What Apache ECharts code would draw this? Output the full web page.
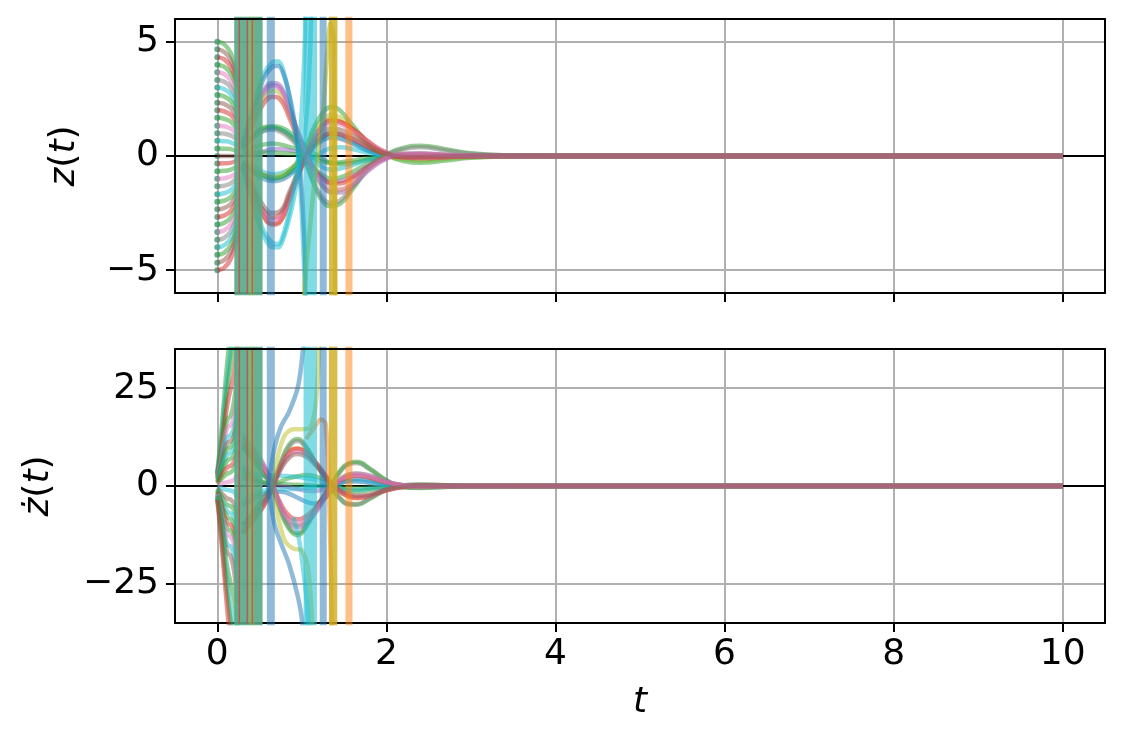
<!DOCTYPE html>
<html><head><meta charset="utf-8">
<script src="https://cdn.jsdelivr.net/npm/echarts@6/dist/echarts.min.js"></script>
<style>html,body{margin:0;padding:0;background:#fff}#c{width:1124px;height:750px}</style>
</head><body><div id="c"></div>
<script>
// ---------------- tick values ----------------
const xTicks = [0, 2, 4, 6, 8, 10];
const zTicks = [-5, 0, 5];
const vTicks = [-25, 0, 25];
const zeroLineT = [-0.5, 10.5];
const zeroLineV = [0, 0];

// ---------------- top panel: initial tails ----------------
const tTail = [0, 0.08, 0.16, 0.24];
const zStart = [5,4.67,4.33,4,3.67,3.33,3,2.67,2.33,2,1.67,1.33,1,0.67,0.33,0,-0.33,-0.67,-1,-1.33,-1.67,-2,-2.33,-2.67,-3,-3.33,-3.67,-4,-4.33,-4.67,-5];
const zTail08 = [4.9,4.57,4.24,3.91,3.59,3.26,2.93,2.61,2.28,1.96,1.63,1.3,0.98,0.65,0.32,0,-0.32,-0.65,-0.98,-1.3,-1.63,-1.96,-2.28,-2.61,-2.93,-3.26,-3.59,-3.91,-4.24,-4.57,-4.9];
const zTail16 = [4.5,4.2,3.9,3.6,3.3,3.0,2.7,2.4,2.1,1.8,1.5,1.2,0.9,0.6,0.3,0,-0.3,-0.6,-0.9,-1.2,-1.5,-1.8,-2.1,-2.4,-2.7,-3.0,-3.3,-3.6,-3.9,-4.2,-4.5];
const zTail24 = [3.5,3.25,3.0,2.8,2.55,2.3,2.1,1.85,1.6,1.4,1.15,0.9,0.7,0.45,0.2,0,-0.2,-0.45,-0.7,-0.9,-1.15,-1.4,-1.6,-1.85,-2.1,-2.3,-2.55,-2.8,-3.0,-3.25,-3.5];

// ---------------- top panel: converging trajectories z(t) ----------------
const tConvZ = [0.3,0.45,0.55,0.65,0.75,0.85,0.95,1.05,1.15,1.25,1.35,1.45,1.6,1.8,2.0,2.2,2.4,2.7,3.0,3.5,4.0,10];
const zA1 = [0.5,2.0,2.7,3.05,2.9,2.0,1.0,0.1,-0.7,-1.2,-1.45,-1.45,-1.2,-0.55,-0.1,0.08,0.1,0.05,0.02,0,0,0];
const zA2 = [0.35,1.6,2.3,2.6,2.45,1.7,0.8,0.05,-0.6,-1.0,-1.2,-1.2,-0.95,-0.45,-0.08,0.05,0.07,0.03,0.01,0,0,0];
const zA3 = [0.6,2.2,2.9,3.2,3.05,2.15,1.1,0.15,-0.75,-1.3,-1.6,-1.6,-1.3,-0.6,-0.12,0.1,0.12,0.06,0.02,0,0,0];
const zA4 = [0.45,1.9,2.55,2.85,2.7,1.9,0.95,0.05,-0.8,-1.35,-1.55,-1.5,-1.2,-0.5,-0.05,0.1,0.1,0.05,0.01,0,0,0];
const zA5 = [0.55,2.1,2.8,3.1,2.95,2.1,1.05,0.2,-0.55,-1.0,-1.15,-1.1,-0.9,-0.4,-0.05,0.06,0.07,0.03,0.01,0,0,0];
const zB1 = [-0.4,-1.7,-2.5,-2.85,-2.7,-1.85,-0.9,0.0,0.75,1.25,1.45,1.4,1.1,0.55,0.15,-0.05,-0.08,-0.04,-0.01,0,0,0];
const zB2 = [-0.35,-1.5,-2.2,-2.5,-2.4,-1.6,-0.75,0.05,0.65,1.05,1.2,1.15,0.9,0.45,0.1,-0.04,-0.05,-0.02,0,0,0,0];
const zB3 = [-0.5,-1.9,-2.65,-3.0,-2.85,-1.95,-0.95,0.0,0.8,1.3,1.55,1.5,1.2,0.6,0.15,-0.06,-0.1,-0.05,-0.01,0,0,0];
const zB4 = [-0.5,-1.8,-2.6,-2.95,-2.8,-1.9,-0.8,0.1,0.9,1.4,1.6,1.5,1.15,0.55,0.1,-0.07,-0.08,-0.04,0,0,0,0];
const zB5 = [-0.45,-1.75,-2.4,-2.7,-2.55,-1.75,-0.85,-0.1,0.5,0.85,1.0,0.95,0.75,0.35,0.08,-0.03,-0.04,-0.02,0,0,0,0];
const zG1 = [0.3,1.0,1.2,1.25,1.15,0.9,0.5,-0.3,-1.3,-2.0,-2.2,-2.1,-1.45,-0.5,0.05,0.35,0.45,0.3,0.12,0.02,0,0];
const zG2 = [0.3,0.9,1.1,1.15,1.05,0.8,0.4,-0.35,-1.2,-1.85,-2.05,-1.95,-1.35,-0.45,0.05,0.3,0.38,0.25,0.1,0.02,0,0];
const zG3 = [-0.3,-0.7,-0.85,-1.0,-0.95,-0.7,-0.3,0.4,1.3,1.9,2.15,2.0,1.35,0.5,0.05,-0.22,-0.3,-0.2,-0.08,-0.01,0,0];
const zG4 = [-0.3,-0.65,-0.8,-0.9,-0.85,-0.6,-0.25,0.35,1.1,1.6,1.8,1.7,1.15,0.45,0.05,-0.15,-0.2,-0.12,-0.05,0,0,0];
const zI1 = [0.3,0.9,1.1,1.2,1.15,0.95,0.6,0.2,-0.2,-0.5,-0.6,-0.55,-0.4,-0.15,0,0.03,0.02,0,0,0,0,0];
const zI2 = [0.2,0.4,0.5,0.55,0.5,0.4,0.3,0.1,-0.1,-0.25,-0.3,-0.28,-0.2,-0.08,0,0.02,0.01,0,0,0,0,0];
const zI3 = [-0.2,-0.5,-0.7,-0.8,-0.75,-0.6,-0.35,0.0,0.4,0.7,0.85,0.8,0.55,0.2,0.03,-0.02,-0.02,0,0,0,0,0];
const zI4 = [-0.3,-0.8,-1.0,-1.1,-1.05,-0.85,-0.5,-0.05,0.45,0.85,1.0,0.95,0.65,0.25,0.05,-0.02,-0.03,-0.01,0,0,0,0];
const zI5 = [0.1,0.15,0.15,0.15,0.12,0.1,0.05,-0.2,-0.55,-0.85,-1.0,-0.95,-0.7,-0.3,-0.05,0.05,0.05,0.02,0,0,0,0];
const zI6 = [0.0,0.1,0.2,0.3,0.3,0.25,0.2,0.3,0.5,0.7,0.8,0.75,0.55,0.2,0.03,-0.02,-0.02,0,0,0,0,0];
const zI7 = [0.4,1.0,1.25,1.3,1.25,1.05,0.75,0.4,0.1,-0.15,-0.3,-0.35,-0.3,-0.15,-0.03,0.01,0.01,0,0,0,0,0];
const zI8 = [-0.35,-0.7,-0.85,-0.95,-0.9,-0.75,-0.55,-0.3,-0.05,0.2,0.35,0.38,0.3,0.12,0.02,-0.01,-0.01,0,0,0,0,0];

// diverging (blow-up) trajectories, top
const tC1 = [0.3,0.45,0.55,0.65,0.72,0.8,0.88,0.95,1.0,1.04,1.07];
const zC1 = [0.5,2.5,3.6,4.1,4.15,3.5,2.0,0.3,-2.5,-7,-40];
const tC2 = [0.3,0.45,0.55,0.65,0.72,0.8,0.88,0.95,1.0,1.04,1.08];
const zC2 = [0.4,2.3,3.4,3.9,3.95,3.4,2.2,0.6,-1.5,-5,-40];
const tC3 = [0.3,0.45,0.55,0.65,0.72,0.8,0.88,0.95,1.02,1.08,1.12,1.16];
const zC3 = [-0.5,-2.5,-3.5,-4.0,-4.0,-3.4,-2.3,-1.0,0.5,3,8,40];
const tC4 = [0.3,0.45,0.55,0.65,0.72,0.8,0.88,0.95,1.0,1.04,1.07];
const zC4 = [-0.4,-2.3,-3.3,-3.8,-3.85,-3.2,-1.9,-0.3,2,6,40];
const tY1 = [0.98,1.03,1.1,1.15,1.2,1.25,1.3,1.34,1.38,1.42];
const zY1 = [-15,-6,-3,-1.1,0.4,1.8,4.5,5.8,5,-30];

// ---------------- bottom panel: initial fan ----------------
const tFan = [0, 0.04, 0.08, 0.12, 0.16, 0.2, 0.24];
const vF1 = [3.5,12,22,32,40,46,52];
const vF2 = [3.2,10.5,19.5,28,35,41,48];
const vF3 = [3.0,9,17,25,31,37,44];
const vF4 = [2.8,8,15,21,25,29,36];
const vF5 = [2.5,7,13,17,18,22,30];
const vF6 = [2.2,6.2,11.5,15,15.5,18,26];
const vF7 = [2.0,5.5,10,12.5,13,15,22];
const vF8 = [1.8,4.8,8.8,11,11.5,13,20];
const vF9 = [1.5,4,7.5,9.5,10,11.5,17];
const vF10 = [1.2,3.5,6.2,8,8.5,9.8,14];
const vF11 = [1.0,3,5,6.5,7,8,12];
const vF12 = [0.8,2.2,3.8,4.8,5.2,6.2,9];
const vF13 = [0.5,1.5,2.5,3.2,3.5,4.5,7];
const vF14 = [0.2,0.5,0.8,1,1.2,1.6,3];
const vF15 = [-0.2,-0.5,-0.8,-1,-1.2,-1.6,-3];
const vF16 = [-0.5,-1.5,-2.5,-3.2,-3.5,-4.5,-7];
const vF17 = [-0.8,-2.2,-3.8,-4.8,-5.2,-6.2,-9];
const vF18 = [-1.0,-3,-5,-6.5,-7,-8,-12];
const vF19 = [-1.2,-3.5,-6.2,-8,-8.5,-9.8,-14];
const vF20 = [-1.5,-4,-7.5,-9.5,-10,-11.5,-17];
const vF21 = [-1.8,-4.8,-8.8,-11,-11.5,-13,-20];
const vF22 = [-2.0,-5.5,-10,-12.5,-13,-15,-22];
const vF23 = [-2.2,-6.2,-11.5,-15,-15.5,-18,-26];
const vF24 = [-2.5,-7,-13,-17,-18,-22,-30];
const vF25 = [-2.8,-8,-15,-21,-25,-29,-36];
const vF26 = [-3.0,-9,-17,-25,-31,-37,-44];
const vF27 = [-3.2,-10.5,-19.5,-28,-35,-41,-48];
const vF28 = [-3.5,-12,-22,-32,-40,-46,-52];

// ---------------- bottom panel: converging trajectories zdot(t) ----------------
const tConvV = [0.3,0.45,0.55,0.65,0.75,0.85,0.95,1.05,1.15,1.25,1.35,1.45,1.55,1.65,1.8,2.0,2.2,2.4,2.7,3.0,4.0,10];
const vA1 = [12,8,5,0.5,-5,-8.5,-9.5,-8.5,-6.5,-3.5,-0.5,1.5,2.6,2.9,2.4,1.0,0.2,-0.1,-0.05,0,0,0];
const vA2 = [11,7,4.5,0.4,-4.5,-7.6,-8.5,-7.7,-5.8,-3.2,-0.4,1.3,2.3,2.6,2.1,0.9,0.2,-0.1,-0.05,0,0,0];
const vA3 = [13,9,5.5,0.6,-5.5,-9.3,-10.5,-9.4,-7.2,-3.9,-0.6,1.6,2.9,3.2,2.7,1.1,0.2,-0.1,-0.05,0,0,0];
const vA4 = [12,8,5,0.5,-5.2,-8.8,-10,-9,-6.8,-3.6,-0.3,1.8,2.9,3.1,2.5,1.0,0.2,-0.1,-0.05,0,0,0];
const vB1 = [-11,-7.5,-4.5,-0.5,4.5,7.8,8.8,8.0,6.0,3.5,0.6,-1.2,-2.3,-2.7,-2.4,-1.0,-0.2,0.1,0.05,0,0,0];
const vB2 = [-10,-7,-4.2,-0.4,4.2,7.2,8.2,7.5,5.6,3.2,0.5,-1.1,-2.1,-2.5,-2.2,-0.9,-0.2,0.1,0.05,0,0,0];
const vB3 = [-12,-8,-5,-0.6,5,8.5,9.5,8.6,6.4,3.7,0.6,-1.4,-2.6,-3.0,-2.6,-1.1,-0.2,0.1,0.05,0,0,0];
const vB4 = [-12,-8,-5,-0.5,5.3,8.8,9.6,8.5,6.2,3.5,0.4,-1.5,-2.7,-3.1,-2.6,-1.1,-0.2,0.1,0.05,0,0,0];
const vG1 = [-10,-6,-3,0.3,6,10.5,12,10,6.5,3,-0.3,-3.2,-4.7,-4.8,-3.3,-1.0,0.2,0.4,0.2,0.05,0,0];
const vG2 = [-10,-6,-3,0.2,5.5,10,11.5,9.8,6.2,2.8,-0.3,-3.0,-4.5,-4.6,-3.1,-0.9,0.2,0.35,0.2,0.05,0,0];
const vG3 = [10,6,3,-0.3,-6.5,-11,-12.5,-10.5,-6.5,-3,0.3,3.8,5.8,6.2,4.5,1.5,-0.3,-0.5,-0.25,-0.05,0,0];
const vG4 = [10,6,3,-0.3,-6,-10.5,-12,-10,-6.2,-2.8,0.3,3.5,5.5,5.9,4.3,1.4,-0.3,-0.45,-0.2,-0.05,0,0];
const vI1 = [5,3,2.5,2.6,2.6,2.5,2.3,2.0,1.6,1.0,0.2,-0.6,-1.0,-1.0,-0.7,-0.2,0,0,0,0,0,0];
const vI2 = [4,2,1.0,0.6,0.5,0.4,0.3,0.2,0.1,0.0,-0.1,-0.3,-0.5,-0.5,-0.35,-0.1,0,0,0,0,0,0];
const vI3 = [-4,-2,-1.2,-1.0,-0.9,-0.8,-0.7,-0.5,-0.2,0.1,0.4,0.9,1.2,1.2,0.9,0.3,0,0,0,0,0,0];
const vI4 = [-5,-3,-2,-1.5,-1.5,-2,-3,-4,-4.5,-3.5,-1.5,0.5,1.5,1.8,1.4,0.5,0.05,0,0,0,0,0];
const vI5 = [3,1.5,0.8,0.5,1.2,2.0,2.5,2.8,2.5,1.8,0.6,-0.5,-1.2,-1.4,-1.0,-0.3,0,0,0,0,0,0];
const vI6 = [2,1,0.5,0.2,0,-0.3,-0.8,-1.2,-1.3,-0.9,0,0.8,1.2,1.2,0.8,0.2,0,0,0,0,0,0];

// diverging trajectories, bottom
const tO1 = [0.6,0.68,0.75,0.85,0.95,1.0,1.05];
const vO1 = [0,10,15,19,25,32,45];
const tO2 = [0.6,0.68,0.76,0.85,0.95,1.0,1.03];
const vO2 = [0,-10,-15,-20,-28,-34,-45];
const tO3 = [0.65,0.72,0.8,0.9,1.0,1.1,1.17,1.22];
const vO3 = [0,8,13,14.5,14.5,15,22,45];
const tO4 = [1.05,1.15,1.22,1.28,1.32,1.36];
const vO4 = [12,15,17,16,0,-40];
const tO5 = [0.65,0.72,0.8,0.9,1.0,1.08,1.14];
const vO5 = [0,-8,-14,-16,-16.5,-22,-45];
const tO6 = [0.9,0.97,1.02,1.06,1.1];
const vO6 = [-8,-14,-22,-30,-45];

// ---------------- blow-up bands (trajectories oscillating off-scale) ----------------
const bandGreenT = [0.22,0.235,0.25,0.265,0.28,0.295,0.31,0.325,0.34,0.355,0.37,0.385,0.4,0.415,0.43,0.445,0.46,0.475,0.49,0.505,0.514];
const bandOliveT = [0.39,0.405,0.42];
const redLineT = [0.26, 0.355, 0.415];
const bandBlueAT = [0.605,0.62,0.635,0.65,0.658];
const bandCyanT = [1.04,1.055,1.07,1.085,1.1,1.115,1.13,1.145,1.16];
const bandBlueBT = [1.23,1.245,1.26,1.275];
const bandYellowT = [1.34,1.355,1.37,1.385,1.4];
const bandOrangeT = [1.535,1.55,1.565,1.58];
const offTop = [60,-60,60,-60,60,-60,60,-60,60,-60,60,-60,60,-60,60,-60,60,-60,60,-60,60,-60];
const offBot = [400,-400,400,-400,400,-400,400,-400,400,-400,400,-400,400,-400,400,-400,400,-400,400,-400,400,-400];

// ---------------- styling ----------------
const TAB = {blue:'#1f77b4', orange:'#ff7f0e', green:'#2ca02c', red:'#d62728', purple:'#9467bd',
  brown:'#8c564b', pink:'#e377c2', grey:'#7f7f7f', olive:'#bcbd22', cyan:'#17becf'};
const tailCycle = ['green','brown','red','green','pink','grey','cyan'];
const FONT = 'DejaVu Sans';
const LW = 4.5, OP = 0.5;

function mk(g, ts, vs, color, width, opacity, smooth) {
  return {type:'line', xAxisIndex:g, yAxisIndex:g, data: ts.map((t,i)=>[t, vs[i]]),
    smooth: smooth, symbol:'none', silent:true, animation:false, clip:true,
    lineStyle:{color: color, width: width, opacity: opacity, join:'round'}};
}

const series = [];
series.push(mk(0, zeroLineT, zeroLineV, '#000', 2, 1, false));
series.push(mk(1, zeroLineT, zeroLineV, '#000', 2, 1, false));

// top tails
zStart.forEach((z0, i) => {
  series.push(mk(0, tTail, [z0, zTail08[i], zTail16[i], zTail24[i]], TAB[tailCycle[i % tailCycle.length]], LW, OP, 0.4));
});
// bottom fan
const fanList = [vF1,vF2,vF3,vF4,vF5,vF6,vF7,vF8,vF9,vF10,vF11,vF12,vF13,vF14,vF15,vF16,vF17,vF18,vF19,vF20,vF21,vF22,vF23,vF24,vF25,vF26,vF27,vF28];
const fanCycle = ['green','cyan','green','red','green','pink','cyan','brown'];
fanList.forEach((v,i)=> series.push(mk(1, tFan, v, TAB[fanCycle[i % fanCycle.length]], LW, OP, 0.4)));

// converging
const zConv = [zI2,zI6,zI8,zI5,zI7,zI4,zI3,zI1,zG4,zG3,zG1,zB5,zB4,zA5,zB3,zA4,zA2,zB1,zA3,zG2,zA1,zB2];
const zConvC = ['green','purple','cyan','green','green','blue','cyan','cyan','olive','green','green','red','orange','purple','red','olive','red','pink','purple','grey','pink','brown'];
zConv.forEach((v,i)=> series.push(mk(0, tConvZ, v, TAB[zConvC[i]], LW, OP, 0.5)));
const vConv = [vI2,vI6,vI5,vI4,vI3,vI1,vG4,vG3,vG1,vB4,vB3,vA4,vA2,vB1,vA3,vG2,vA1,vB2];
const vConvC = ['green','purple','green','blue','cyan','cyan','grey','green','green','orange','red','olive','red','pink','purple','grey','pink','brown'];
vConv.forEach((v,i)=> series.push(mk(1, tConvV, v, TAB[vConvC[i]], LW, OP, 0.5)));

// diverging curves
series.push(mk(0, tC1, zC1, TAB.cyan, LW, OP, 0.3));
series.push(mk(0, tC2, zC2, TAB.blue, LW, OP, 0.3));
series.push(mk(0, tC3, zC3, TAB.cyan, LW, OP, 0.3));
series.push(mk(0, tC4, zC4, TAB.cyan, LW, OP, 0.3));
series.push(mk(0, tY1, zY1, TAB.olive, LW, 0.6, 0.3));
series.push(mk(1, tO1, vO1, TAB.blue, LW, OP, 0.3));
series.push(mk(1, tO2, vO2, TAB.blue, LW, OP, 0.3));
series.push(mk(1, tO3, vO3, TAB.olive, LW, OP, 0.3));
series.push(mk(1, tO4, vO4, TAB.orange, LW, OP, 0.3));
series.push(mk(1, tO5, vO5, TAB.olive, LW, OP, 0.3));
series.push(mk(1, tO6, vO6, TAB.cyan, LW, OP, 0.3));

// bands
[[0, offTop],[1, offBot]].forEach(([g, off]) => {
  series.push(mk(g, bandGreenT, off, '#55a887', LW, 0.9, false));
  series.push(mk(g, bandOliveT, off, TAB.olive, LW, 0.3, false));
  redLineT.forEach(t => series.push(mk(g, [t, t], off, '#c0504d', 1.5, 0.85, false)));
  series.push(mk(g, bandBlueAT, off, TAB.blue, LW, OP, false));
  series.push(mk(g, bandCyanT, off, TAB.cyan, LW, 0.55, false));
  series.push(mk(g, bandBlueBT, off, TAB.blue, LW, OP, false));
  series.push(mk(g, bandYellowT, off, TAB.orange, LW, OP, false));
  series.push(mk(g, bandYellowT, off, TAB.olive, LW, 0.6, false));
  series.push(mk(g, bandOrangeT, off, TAB.orange, LW, OP, false));
});

// start dots
series.push({type:'scatter', xAxisIndex:0, yAxisIndex:0, data: zStart.map(z=>[tTail[0], z]),
  symbol:'circle', symbolSize:6, silent:true, animation:false,
  itemStyle:{color:'#4f9c7c', opacity:0.85}});

const fmt = v => v < 0 ? '\u2212' + (-v) : String(v);
const richI = {i:{fontStyle:'italic', fontFamily:FONT, fontSize:36, color:'#000'}};

function xMain(g) {
  return {type:'value', gridIndex:g, min:-0.5, max:10.5, position:'bottom',
    axisLine:{show:true, onZero:false, lineStyle:{color:'#000', width:2}},
    axisTick:{show:true, customValues:xTicks, length:9, lineStyle:{color:'#000', width:2}},
    axisLabel:{show: g===1, customValues:xTicks, fontSize:36, fontFamily:FONT, color:'#000', margin:14},
    splitLine:{show:true, lineStyle:{color:'#b0b0b0', width:2}},
    name: g===1 ? '{i|t}' : '', nameLocation:'middle', nameGap:62,
    nameTextStyle:{fontSize:36, fontFamily:FONT, color:'#000', rich:richI}};
}
function xFrame(g) {
  return {type:'value', gridIndex:g, min:-0.5, max:10.5, position:'top', z:5,
    axisLine:{show:true, onZero:false, lineStyle:{color:'#000', width:2}},
    axisTick:{show:false}, axisLabel:{show:false}, splitLine:{show:false}};
}
function yMain(g, lo, hi, ticks, name, gap) {
  return {type:'value', gridIndex:g, min:lo, max:hi, position:'left',
    axisLine:{show:true, onZero:false, lineStyle:{color:'#000', width:2}},
    axisTick:{show:true, customValues:ticks, length:9, lineStyle:{color:'#000', width:2}},
    axisLabel:{customValues:ticks, formatter:fmt, fontSize:36, fontFamily:FONT, color:'#000', margin:16},
    splitLine:{show:true, lineStyle:{color:'#b0b0b0', width:2}},
    name:name, nameLocation:'middle', nameRotate:90, nameGap:gap,
    nameTextStyle:{fontSize:36, fontFamily:FONT, color:'#000', rich:richI}};
}
function yFrame(g, lo, hi) {
  return {type:'value', gridIndex:g, min:lo, max:hi, position:'right', z:5,
    axisLine:{show:true, onZero:false, lineStyle:{color:'#000', width:2}},
    axisTick:{show:false}, axisLabel:{show:false}, splitLine:{show:false}};
}

const option = {
  animation:false,
  backgroundColor:'#fff',
  textStyle:{fontFamily:FONT},
  grid:[{left:175, top:19, width:930, height:274},
        {left:175, top:349, width:930, height:274}],
  xAxis:[xMain(0), xMain(1), xFrame(0), xFrame(1)],
  yAxis:[yMain(0,-6,6,zTicks,'{i|z}({i|t})',92), yMain(1,-35,35,vTicks,'{i|ż}({i|t})',118),
         yFrame(0,-6,6), yFrame(1,-35,35)],
  series: series
};
const chart = echarts.init(document.getElementById('c'), null, {renderer:'canvas'});
chart.setOption(option);
</script></body></html>
